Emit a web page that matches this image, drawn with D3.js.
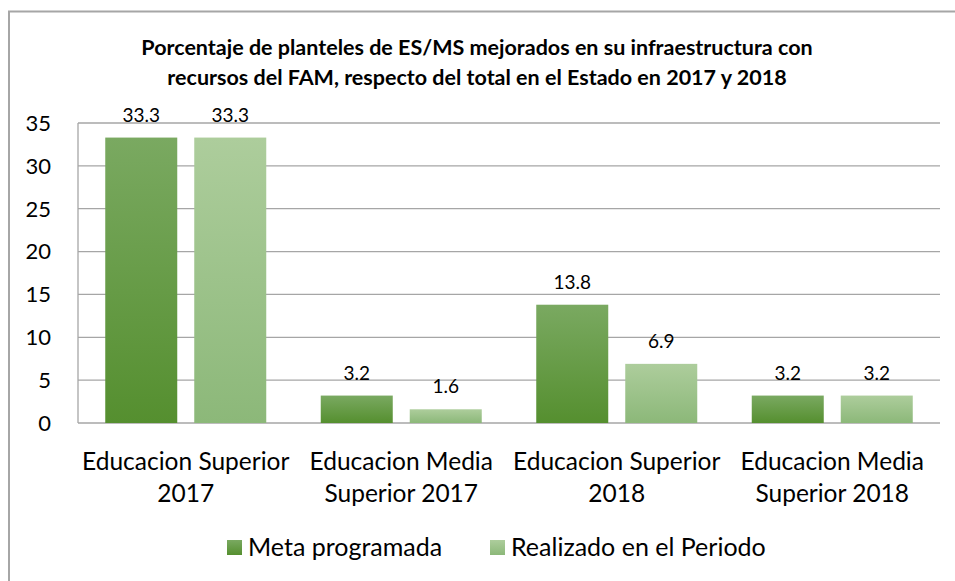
<!DOCTYPE html>
<html>
<head>
<meta charset="utf-8">
<script src="https://cdn.jsdelivr.net/npm/d3@7"></script>
<style>
  body { margin: 0; background: #fff; }
  text { font-family: Lato, "Open Sans", sans-serif; fill: #000; }
</style>
</head>
<body>
<div id="chart"></div>
<script>
var svgWidth = 955;
var svgHeight = 581;

var margin = { top: 123, right: 15, bottom: 158, left: 78 };
var width = svgWidth - margin.left - margin.right;
var height = svgHeight - margin.top - margin.bottom;

// data
var categories = [
  ["Educacion Superior", "2017"],
  ["Educacion Media", "Superior 2017"],
  ["Educacion Superior", "2018"],
  ["Educacion Media", "Superior 2018"]
];
var seriesNames = ["Meta programada", "Realizado en el Periodo"];
var metaValues = [33.3, 3.2, 13.8, 3.2];
var realizadoValues = [33.3, 1.6, 6.9, 3.2];
var yTicks = [0, 5, 10, 15, 20, 25, 30, 35];

var svg = d3.select("#chart").append("svg")
  .attr("width", svgWidth)
  .attr("height", svgHeight);

// gradients for the bars
var defs = svg.append("defs");
var gradColors = [["#7aa961", "#558f2f"], ["#adcd9c", "#8cb879"]];
gradColors.forEach(function(c, i) {
  var g = defs.append("linearGradient")
    .attr("id", "grad" + i)
    .attr("x1", 0).attr("y1", 0).attr("x2", 0).attr("y2", 1);
  g.append("stop").attr("offset", "0%").attr("stop-color", c[0]);
  g.append("stop").attr("offset", "100%").attr("stop-color", c[1]);
});

// chart border (only top and left edges are visible in the crop)
svg.append("path")
  .attr("d", `M9,${svgHeight} V11.5 H${svgWidth}`)
  .attr("fill", "none")
  .attr("stroke", "#a6a6a6")
  .attr("stroke-width", 2);

// title
var title = svg.append("text")
  .attr("text-anchor", "middle")
  .style("font-weight", "bold")
  .style("font-size", "21.5px");
title.append("tspan").attr("x", 477).attr("y", 55)
  .text("Porcentaje de planteles de ES/MS mejorados en su infraestructura con");
title.append("tspan").attr("x", 477).attr("y", 85)
  .text("recursos del FAM, respecto del total en el Estado en 2017 y 2018");

var chartGroup = svg.append("g")
  .attr("transform", `translate(${margin.left}, ${margin.top})`);

var xScale = d3.scaleBand()
  .domain(d3.range(categories.length))
  .range([0, width]);

var yScale = d3.scaleLinear()
  .domain([0, 35])
  .range([height, 0]);

// gridlines
chartGroup.selectAll(".grid")
  .data(yTicks)
  .enter()
  .append("line")
  .attr("x1", 0).attr("x2", width)
  .attr("y1", d => yScale(d)).attr("y2", d => yScale(d))
  .attr("stroke", "#a6a6a6")
  .attr("stroke-width", 1.3);

// left axis line
chartGroup.append("line")
  .attr("x1", 0).attr("x2", 0)
  .attr("y1", 0).attr("y2", height)
  .attr("stroke", "#a6a6a6")
  .attr("stroke-width", 1.3);

// y tick labels
chartGroup.selectAll(".ytick")
  .data(yTicks)
  .enter()
  .append("text")
  .attr("x", -27)
  .attr("y", d => yScale(d))
  .attr("dy", "0.36em")
  .attr("text-anchor", "end")
  .style("font-size", "22px")
  .text(d => d);

var barWidth = 72;
var barGap = 17;

var series = [metaValues, realizadoValues];
series.forEach(function(values, s) {
  var offset = s === 0 ? -(barGap / 2 + barWidth) : barGap / 2;
  var bars = chartGroup.selectAll(".bar" + s)
    .data(values)
    .enter();

  bars.append("rect")
    .attr("x", (d, i) => xScale(i) + xScale.bandwidth() / 2 + offset)
    .attr("y", d => yScale(d))
    .attr("width", barWidth)
    .attr("height", d => height - yScale(d))
    .attr("fill", `url(#grad${s})`);

  bars.append("text")
    .attr("x", (d, i) => xScale(i) + xScale.bandwidth() / 2 + offset + barWidth / 2)
    .attr("y", d => yScale(d) - 16)
    .attr("text-anchor", "middle")
    .style("font-size", "19px")
    .text(d => d.toFixed(1));
});

// x category labels
var xLabels = chartGroup.selectAll(".xlabel")
  .data(categories)
  .enter()
  .append("text")
  .attr("text-anchor", "middle")
  .style("font-size", "24.5px");
xLabels.append("tspan")
  .attr("x", (d, i) => xScale(i) + xScale.bandwidth() / 2)
  .attr("y", height + 47)
  .text(d => d[0]);
xLabels.append("tspan")
  .attr("x", (d, i) => xScale(i) + xScale.bandwidth() / 2)
  .attr("y", height + 79)
  .text(d => d[1]);

// legend
var legendX = [227, 490];
seriesNames.forEach(function(name, s) {
  svg.append("rect")
    .attr("x", legendX[s]).attr("y", 540)
    .attr("width", 15).attr("height", 15)
    .attr("fill", `url(#grad${s})`);
  svg.append("text")
    .attr("x", legendX[s] + 21).attr("y", 556)
    .style("font-size", "25px")
    .text(name);
});
</script>
</body>
</html>
